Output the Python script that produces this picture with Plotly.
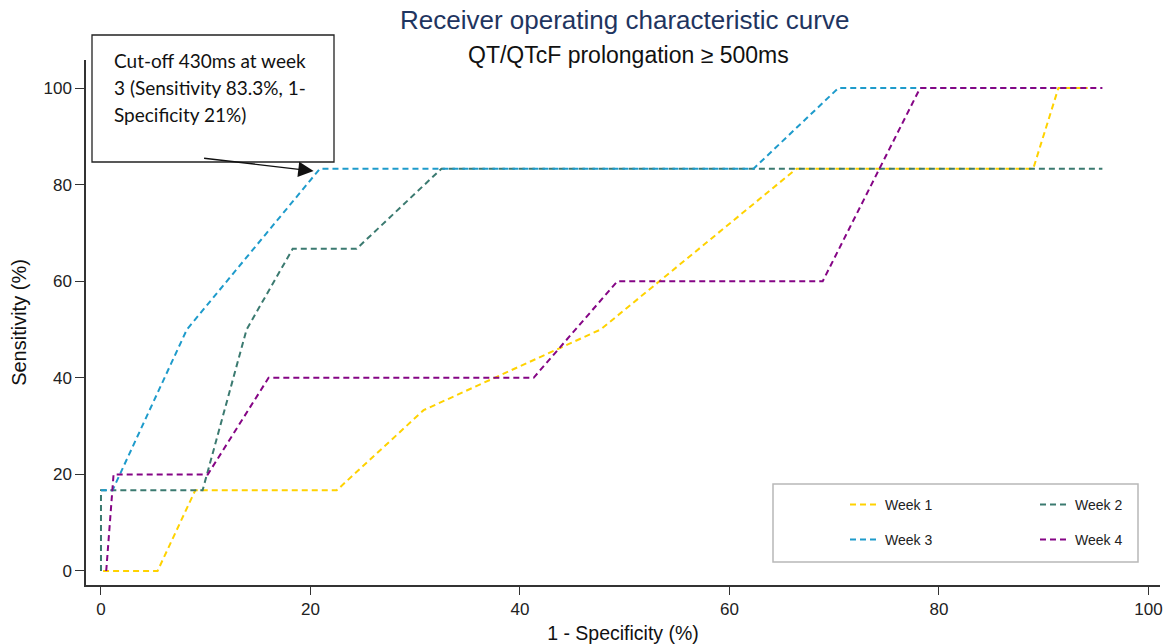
import plotly.graph_objects as go

# ROC curves (1 - specificity vs sensitivity), one per study week
week1_x = [0.2, 5.4, 9.0, 22.5, 30.8, 47.7, 66.4, 89.0, 91.4, 94.2]
week1_y = [0, 0, 16.7, 16.7, 33.3, 50, 83.3, 83.3, 100, 100]

week2_x = [0, 0, 9.7, 13.9, 18.3, 24.4, 32.5, 95.6]
week2_y = [0, 16.7, 16.7, 50, 66.7, 66.7, 83.3, 83.3]

week3_x = [0, 1.1, 8.2, 20.9, 62.3, 70.4, 93.5]
week3_y = [16.7, 16.7, 50, 83.3, 83.3, 100, 100]

week4_x = [0.5, 1.2, 10.2, 16.0, 41.3, 49.3, 68.9, 78.2, 95.6]
week4_y = [0, 20, 20, 40, 40, 60, 60, 100, 100]

tick_vals = [0, 20, 40, 60, 80, 100]

# highlighted cut-off point on the week 3 curve
cutoff_x = 20.3
cutoff_y = 82.8
callout_tail_x = 9.7
callout_tail_y = 85.5
callout_lines = ["Cut-off 430ms at week", "3 (Sensitivity 83.3%, 1-", "Specificity 21%)"]

W, H = 1170, 644
ML, MR, MT, MB = 86, 10, 60, 59
PW, PH = W - ML - MR, H - MT - MB


def px_x(p):
    return (p - ML) / PW


def px_y(p):
    return (H - MB - p) / PH


# name, x, y, colour, legend id, legend text position (px)
series = [
    ("Week 1", week1_x, week1_y, "#ffd200", "legend", (886, 505)),
    ("Week 2", week2_x, week2_y, "#3b7a70", "legend2", (1076, 505)),
    ("Week 3", week3_x, week3_y, "#1e9bcb", "legend3", (886, 540)),
    ("Week 4", week4_x, week4_y, "#850585", "legend4", (1076, 540)),
]

fig = go.Figure()
legends = {}
for name, xs, ys, color, leg, (tx, ty) in series:
    fig.add_trace(go.Scatter(
        x=xs, y=ys, mode="lines", name=name, legend=leg,
        line=dict(color=color, width=2, dash="6px,4px"),
    ))
    legends[leg] = dict(
        x=px_x(tx - 41), y=px_y(ty), xanchor="left", yanchor="middle",
        font=dict(size=14, color="#222"),
        bgcolor="rgba(0,0,0,0)", borderwidth=0,
    )

axis_font = dict(family="Arial, Liberation Sans, sans-serif", size=17, color="#222")

fig.update_layout(
    width=W, height=H,
    margin=dict(l=ML, r=MR, t=MT, b=MB),
    paper_bgcolor="white", plot_bgcolor="white",
    font=dict(family="Arial, Liberation Sans, sans-serif", color="#222"),
    xaxis=dict(
        range=[-1.43, 101.1], tickvals=tick_vals, showgrid=False, zeroline=False,
        showline=True, linecolor="#333", linewidth=1.5, automargin=False,
        ticks="outside", ticklen=8, tickwidth=1.2, tickcolor="#333",
        tickfont=axis_font,
        title=dict(text="1 - Specificity (%)", font=dict(size=19.5, color="#111"), standoff=8),
    ),
    yaxis=dict(
        range=[-2.9, 105.8], tickvals=tick_vals, showgrid=False, zeroline=False,
        showline=True, linecolor="#333", linewidth=1.5, automargin=False,
        ticks="outside", ticklen=9, tickwidth=1.2, tickcolor="#333",
        tickfont=axis_font,
        title=dict(text="Sensitivity (%)", font=dict(size=20, color="#111"), standoff=11),
    ),
    showlegend=True,
    **legends,
)

# frame around the legend entries
fig.add_shape(
    type="rect", xref="paper", yref="paper",
    x0=px_x(773), x1=px_x(1138), y0=px_y(562), y1=px_y(484),
    line=dict(color="#b8b8b8", width=1.5), fillcolor="rgba(0,0,0,0)", layer="below",
)

# titles
fig.add_annotation(
    text="Receiver operating characteristic curve", xref="paper", yref="paper",
    x=px_x(624), y=px_y(20), xanchor="center", yanchor="middle", showarrow=False,
    font=dict(family="Arial, Liberation Sans, sans-serif", size=26, color="#1f3560"),
)
fig.add_annotation(
    text="QT/QTcF prolongation ≥ 500ms", xref="paper", yref="paper",
    x=px_x(628), y=px_y(55), xanchor="center", yanchor="middle", showarrow=False,
    font=dict(family="Arial, Liberation Sans, sans-serif", size=23, color="#111"),
)

# callout box with its text lines
fig.add_shape(
    type="rect", xref="paper", yref="paper",
    x0=px_x(92), x1=px_x(334), y0=px_y(162), y1=px_y(35),
    line=dict(color="#222", width=1.3), fillcolor="white", layer="above",
)
for i, line in enumerate(callout_lines):
    fig.add_annotation(
        text=line, xref="paper", yref="paper",
        x=px_x(112), y=px_y(60 + 27.5 * i), xanchor="left", yanchor="middle",
        showarrow=False, align="left",
        font=dict(family="Lato, Open Sans, sans-serif", size=19, color="#111"),
    )
# arrow from the box to the cut-off point
fig.add_annotation(
    text="", x=cutoff_x, y=cutoff_y, xref="x", yref="y",
    ax=callout_tail_x, ay=callout_tail_y, axref="x", ayref="y",
    showarrow=True, arrowhead=2, arrowsize=2.2, arrowwidth=1.4, arrowcolor="#111",
    standoff=0, startstandoff=0,
)

fig.write_html("out.html")
